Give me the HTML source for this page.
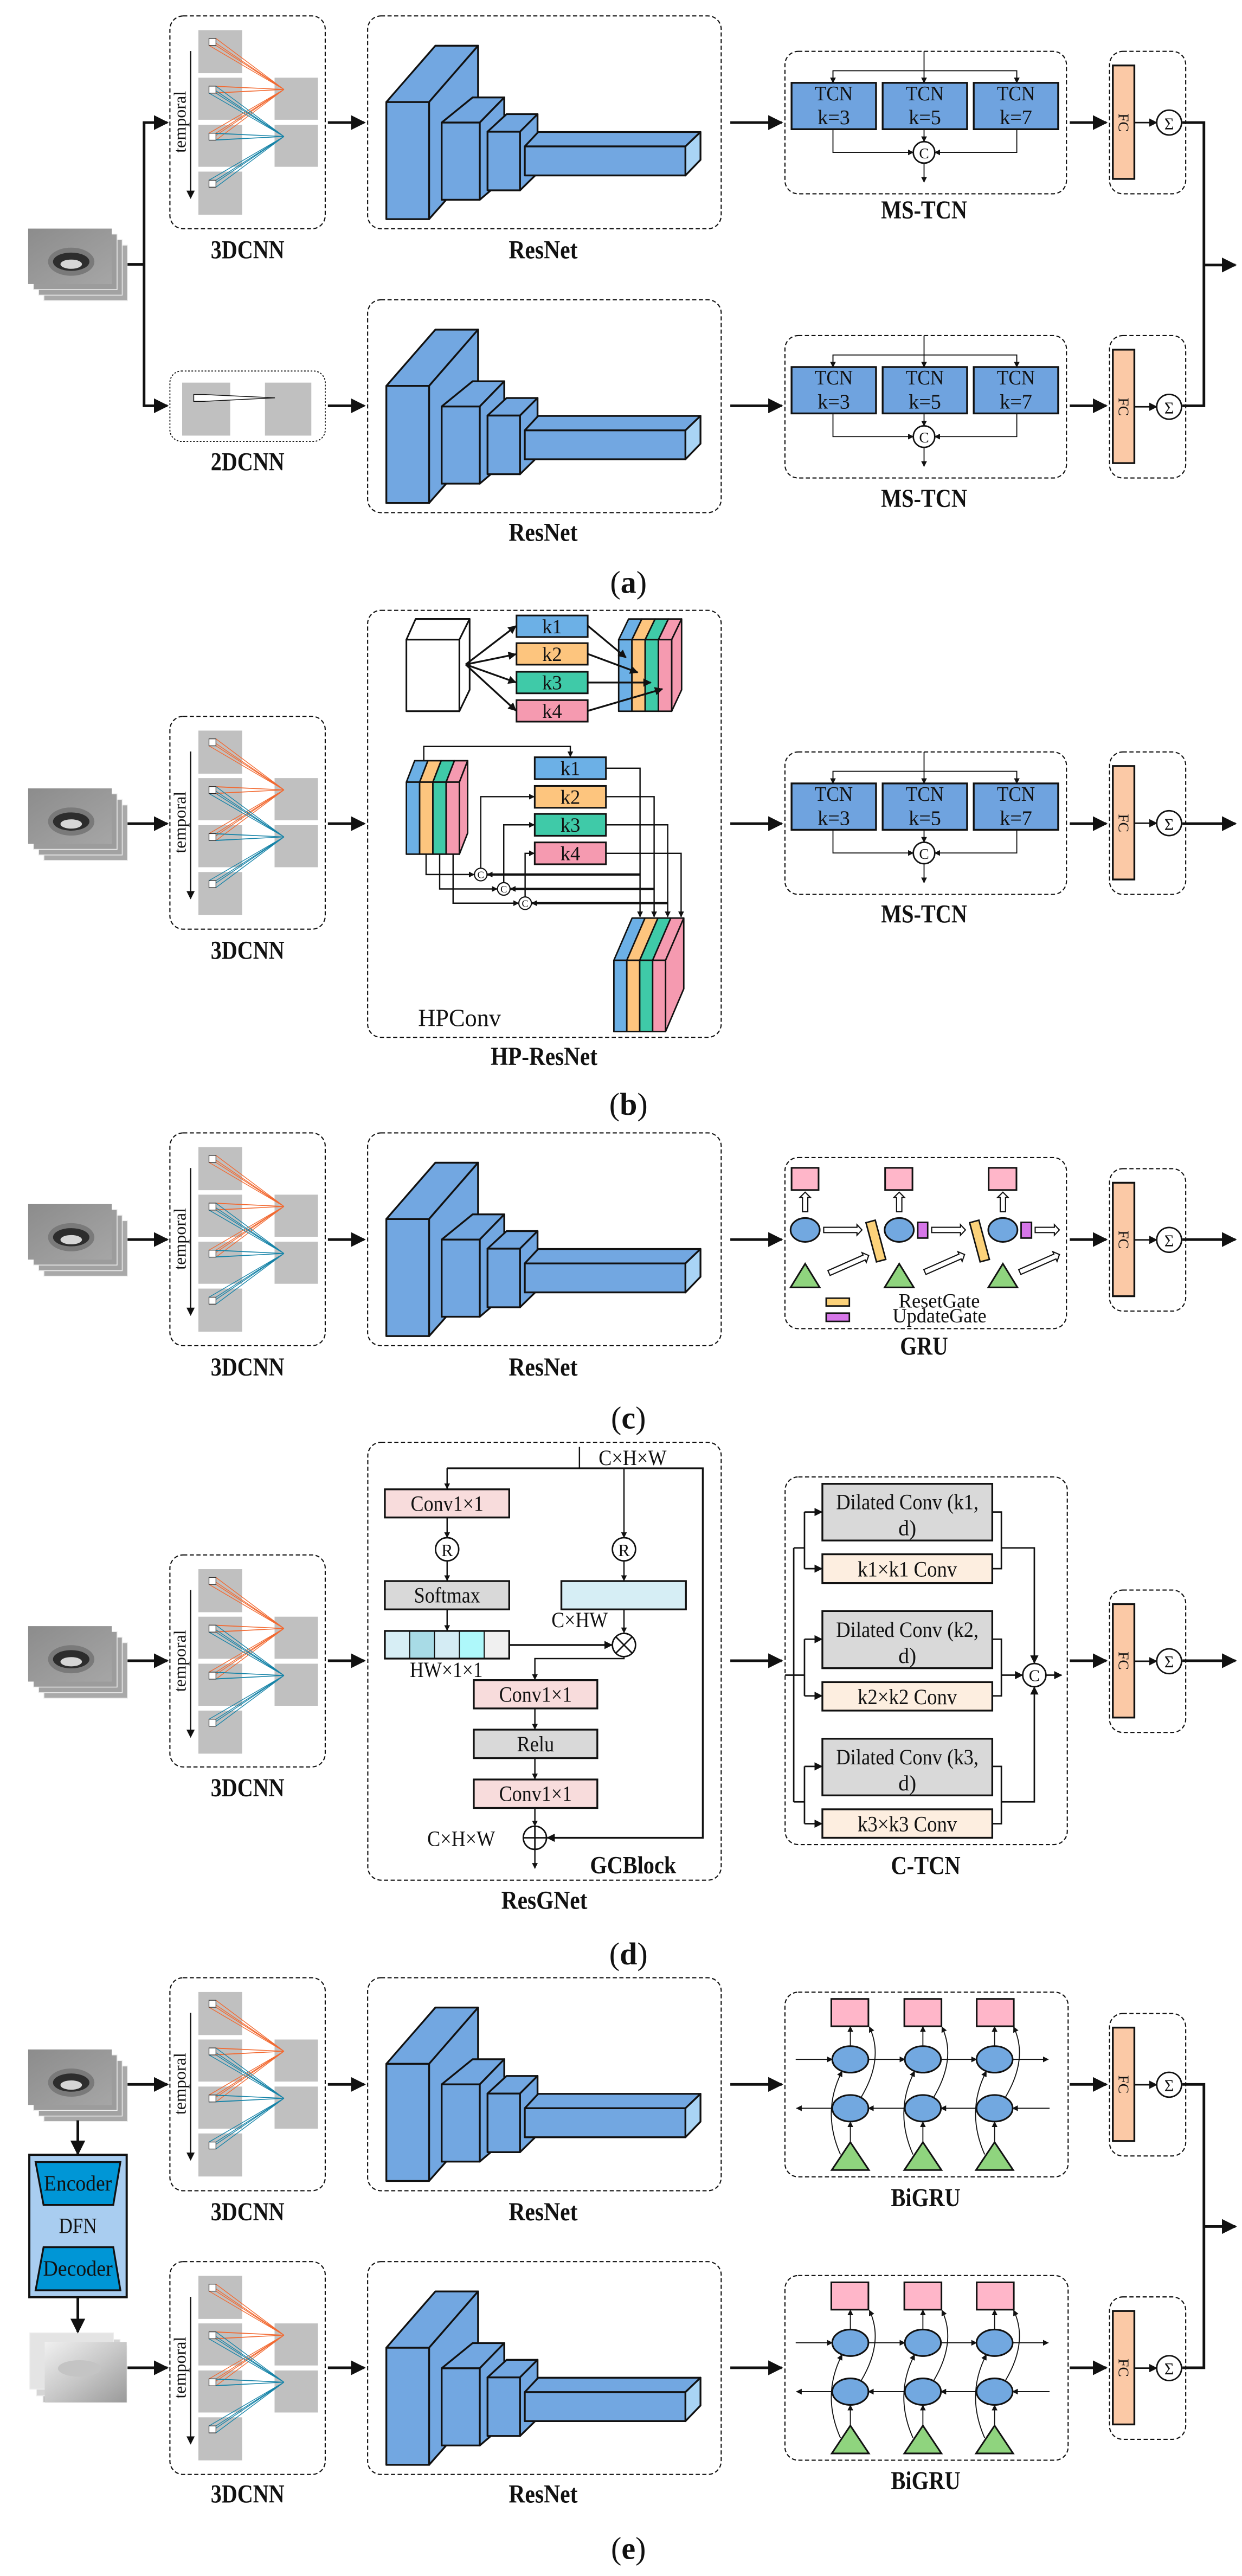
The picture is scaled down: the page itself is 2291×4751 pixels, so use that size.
<!DOCTYPE html>
<html><head><meta charset="utf-8"><style>
html,body{margin:0;padding:0;background:#fff}
svg{display:block}
text{font-family:"Liberation Serif",serif;fill:#111}
.b{font-weight:bold}
</style></head><body>
<svg xmlns="http://www.w3.org/2000/svg" xmlns:xlink="http://www.w3.org/1999/xlink" width="2291" height="4751" viewBox="0 0 750 1555.3">
<defs>
<marker id="ab" viewBox="0 0 10 10" refX="9" refY="5" markerWidth="9" markerHeight="9" markerUnits="userSpaceOnUse" orient="auto"><path d="M0,0L10,5L0,10z" fill="#111"/></marker>
<marker id="am" viewBox="0 0 10 10" refX="9" refY="5" markerWidth="5" markerHeight="5" markerUnits="userSpaceOnUse" orient="auto"><path d="M0,0L10,5L0,10z" fill="#111"/></marker>
<marker id="as" viewBox="0 0 10 10" refX="9" refY="5" markerWidth="3.5" markerHeight="3.5" markerUnits="userSpaceOnUse" orient="auto"><path d="M0,0L10,5L0,10z" fill="#111"/></marker>
<linearGradient id="lg" x1="0" y1="0" x2="1" y2="1"><stop offset="0" stop-color="#8c8c8c"/><stop offset="1" stop-color="#a6a6a6"/></linearGradient>
<linearGradient id="bg" x1="0" y1="0" x2="1" y2="1"><stop offset="0" stop-color="#f0f0f0"/><stop offset="0.5" stop-color="#c8c8c8"/><stop offset="1" stop-color="#9a9a9a"/></linearGradient>

<g id="lips">
<rect x="9.5" y="10" width="50.5" height="33.5" fill="#a9a9a9" stroke="#eee" stroke-width="0.5"/>
<rect x="6.3" y="6.7" width="50.5" height="33.5" fill="#a2a2a2" stroke="#eee" stroke-width="0.5"/>
<rect x="3.2" y="3.3" width="50.5" height="33.5" fill="#9c9c9c" stroke="#eee" stroke-width="0.5"/>
<rect x="0" y="0" width="50.5" height="33.5" fill="url(#lg)"/>
<ellipse cx="26" cy="20" rx="14" ry="8.5" fill="#7a7a7a"/>
<ellipse cx="26" cy="20" rx="11" ry="5.5" fill="#2d2d2d"/>
<ellipse cx="26" cy="21.5" rx="6.5" ry="2.8" fill="#d6d6d6"/>
</g>

<g id="c3d">
<rect x="17.2" y="8.6" width="26.4" height="26" fill="#c0c0c0"/>
<rect x="17.2" y="37.3" width="26.4" height="25.4" fill="#c0c0c0"/>
<rect x="17.2" y="65.7" width="26.4" height="25.4" fill="#c0c0c0"/>
<rect x="17.2" y="94" width="26.4" height="26" fill="#c0c0c0"/>
<rect x="63.2" y="37.3" width="26.2" height="25.4" fill="#c0c0c0"/>
<rect x="63.2" y="65.7" width="26.2" height="25.4" fill="#c0c0c0"/>
<g stroke="#f26a32" stroke-width="0.45" fill="none">
<path d="M23.6,13.6L68.9,44.4M27.8,13.6L68.9,44.4M23.6,17.8L68.9,44.4M27.8,17.8L68.9,44.4"/>
<path d="M23.6,42.4L68.9,44.4M27.8,42.4L68.9,44.4M23.6,46.6L68.9,44.4M27.8,46.6L68.9,44.4"/>
<path d="M23.6,70.8L68.9,44.4M27.8,70.8L68.9,44.4M23.6,75L68.9,44.4M27.8,75L68.9,44.4"/>
</g>
<g stroke="#1784a8" stroke-width="0.45" fill="none">
<path d="M23.6,42.4L68.9,72.8M27.8,42.4L68.9,72.8M23.6,46.6L68.9,72.8M27.8,46.6L68.9,72.8"/>
<path d="M23.6,70.8L68.9,72.8M27.8,70.8L68.9,72.8M23.6,75L68.9,72.8M27.8,75L68.9,72.8"/>
<path d="M23.6,99.2L68.9,72.8M27.8,99.2L68.9,72.8M23.6,103.4L68.9,72.8M27.8,103.4L68.9,72.8"/>
</g>
<g fill="#fff" stroke="#222" stroke-width="0.4">
<rect x="23.6" y="13.6" width="4.2" height="4.2"/><rect x="23.6" y="42.4" width="4.2" height="4.2"/>
<rect x="23.6" y="70.8" width="4.2" height="4.2"/><rect x="23.6" y="99.2" width="4.2" height="4.2"/>
</g>
<line x1="12.5" y1="21.2" x2="12.5" y2="110" stroke="#111" stroke-width="0.8" marker-end="url(#am)"/>
</g>

<g id="res" stroke="#111" stroke-width="1.1" stroke-linejoin="round" fill="#72a7e1">
<polygon points="11.3,52 40.9,18 66.7,18 37.1,52"/>
<polygon points="37.1,52 66.7,18 66.7,89.2 37.1,122.7"/>
<rect x="11.3" y="52" width="25.8" height="70.7"/>
<polygon points="44.7,64.4 63.4,49.2 82.5,49.2 67.7,64.4"/>
<polygon points="67.7,64.4 82.5,49.2 82.5,98.4 67.7,111"/>
<rect x="44.7" y="64.4" width="23" height="46.6"/>
<polygon points="72.4,69.9 83.9,59.3 102.6,59.3 92,69.9"/>
<polygon points="92,69.9 102.6,59.3 102.6,94.9 92,105.3"/>
<rect x="72.4" y="69.9" width="19.6" height="35.4"/>
<polygon points="94.9,78.8 103,70.1 201,70.1 191.9,78.8"/>
<polygon points="191.9,78.8 201,70.1 201,86.9 191.9,96.3" fill="#a9d4f5"/>
<rect x="94.9" y="78.8" width="97" height="17.5"/>
</g>

<g id="ms">
<rect x="0" y="0" width="170" height="86" rx="8" fill="none" stroke="#111" stroke-width="0.7" stroke-dasharray="2.5,1.5"/>
<g fill="#6fa3df" stroke="#111" stroke-width="1.1">
<rect x="4" y="19" width="51" height="28"/><rect x="59" y="19" width="51" height="28"/><rect x="114" y="19" width="51" height="28"/>
</g>
<g stroke="#111" stroke-width="0.6" fill="none">
<line x1="84" y1="0" x2="84" y2="19" marker-end="url(#as)"/>
<path d="M29,19V11.7H140V19" />
<line x1="29" y1="11.7" x2="29" y2="19" marker-end="url(#as)"/>
<line x1="140" y1="11.7" x2="140" y2="19" marker-end="url(#as)"/>
<path d="M29,47V61H77.5" marker-end="url(#as)"/>
<path d="M140,47V61H90.5" marker-end="url(#as)"/>
<line x1="84" y1="47" x2="84" y2="54.5" marker-end="url(#as)"/>
<line x1="84" y1="67.5" x2="84" y2="79" marker-end="url(#as)"/>
</g>
<circle cx="84" cy="61" r="6.5" fill="#fff" stroke="#111" stroke-width="0.9"/>
</g>

<g id="fc">
<rect x="0" y="0" width="46" height="86" rx="8" fill="none" stroke="#111" stroke-width="0.7" stroke-dasharray="2.5,1.5"/>
<rect x="2" y="8.5" width="13" height="68.5" fill="#fbc9a6" stroke="#111" stroke-width="1.1"/>
<line x1="15" y1="43" x2="28.5" y2="43" stroke="#111" stroke-width="0.9" marker-end="url(#am)"/>
<circle cx="36" cy="43" r="7.5" fill="#fff" stroke="#111" stroke-width="0.9"/>
</g>

<g id="bi">
<rect x="0" y="0" width="171" height="111.5" rx="8" fill="none" stroke="#111" stroke-width="0.7" stroke-dasharray="2.5,1.5"/>
<g fill="#ffb6c9" stroke="#111" stroke-width="1">
<rect x="28" y="4.1" width="22.4" height="16.5"/><rect x="72.1" y="4.1" width="22.4" height="16.5"/><rect x="115.8" y="4.1" width="22.4" height="16.5"/>
</g>
<g stroke="#111" stroke-width="0.6" fill="none">
<line x1="6.5" y1="40.6" x2="28.6" y2="40.6" marker-end="url(#as)"/>
<line x1="50.4" y1="40.6" x2="72.4" y2="40.6" marker-end="url(#as)"/>
<line x1="94.2" y1="40.6" x2="115.7" y2="40.6" marker-end="url(#as)"/>
<line x1="137.5" y1="40.6" x2="159" y2="40.6" marker-end="url(#as)"/>
<line x1="159.8" y1="70.1" x2="137.5" y2="70.1" marker-end="url(#as)"/>
<line x1="115.7" y1="70.1" x2="94.2" y2="70.1" marker-end="url(#as)"/>
<line x1="72.4" y1="70.1" x2="50.4" y2="70.1" marker-end="url(#as)"/>
<line x1="28.6" y1="70.1" x2="7" y2="70.1" marker-end="url(#as)"/>
<line x1="39.5" y1="90.6" x2="39.5" y2="78.3" marker-end="url(#as)"/>
<line x1="83.3" y1="90.6" x2="83.3" y2="78.3" marker-end="url(#as)"/>
<line x1="126.6" y1="90.6" x2="126.6" y2="78.3" marker-end="url(#as)"/>
<line x1="39.5" y1="32.6" x2="39.5" y2="20.8" marker-end="url(#as)"/>
<line x1="83.3" y1="32.6" x2="83.3" y2="20.8" marker-end="url(#as)"/>
<line x1="126.6" y1="32.6" x2="126.6" y2="20.8" marker-end="url(#as)"/>
<path d="M33.5,98 Q22,72 34.5,47.8" marker-end="url(#as)"/>
<path d="M77.3,98 Q65.8,72 78.3,47.8" marker-end="url(#as)"/>
<path d="M120.6,98 Q109.1,72 121.6,47.8" marker-end="url(#as)"/>
<path d="M46,63.5 Q60,40 51,21" marker-end="url(#as)"/>
<path d="M89.8,63.5 Q103.8,40 94.8,21" marker-end="url(#as)"/>
<path d="M133.1,63.5 Q147.1,40 138.1,21" marker-end="url(#as)"/>
</g>
<g fill="#72a8e0" stroke="#111" stroke-width="1">
<ellipse cx="39.5" cy="40.6" rx="10.9" ry="8"/><ellipse cx="83.3" cy="40.6" rx="10.9" ry="8"/><ellipse cx="126.6" cy="40.6" rx="10.9" ry="8"/>
<ellipse cx="39.5" cy="70.1" rx="10.9" ry="8"/><ellipse cx="83.3" cy="70.1" rx="10.9" ry="8"/><ellipse cx="126.6" cy="70.1" rx="10.9" ry="8"/>
</g>
<g fill="#8fd47e" stroke="#111" stroke-width="1">
<polygon points="39.5,90.6 50.7,107.4 28.3,107.4"/><polygon points="83.3,90.6 94.5,107.4 72.1,107.4"/><polygon points="126.6,90.6 137.8,107.4 115.4,107.4"/>
</g>
</g>
</defs>

<!-- ================= (a) ================= -->
<use xlink:href="#lips" x="17" y="138"/>
<g stroke="#111" stroke-width="1.6" fill="none">
<path d="M77,159.6H87V74M87,159.6V245"/>
<line x1="86.2" y1="74" x2="101" y2="74" marker-end="url(#ab)"/>
<line x1="86.2" y1="245" x2="101" y2="245" marker-end="url(#ab)"/>
<line x1="198" y1="74" x2="220" y2="74" marker-end="url(#ab)"/>
<line x1="198" y1="245" x2="220" y2="245" marker-end="url(#ab)"/>
<line x1="441" y1="74" x2="472" y2="74" marker-end="url(#ab)"/>
<line x1="441" y1="245" x2="472" y2="245" marker-end="url(#ab)"/>
<line x1="646" y1="74" x2="668" y2="74" marker-end="url(#ab)"/>
<line x1="646" y1="245" x2="668" y2="245" marker-end="url(#ab)"/>
<path d="M714,74H727V245H714"/>
<line x1="727" y1="160" x2="746" y2="160" marker-end="url(#ab)"/>
</g>
<rect x="102.6" y="9.6" width="93.8" height="128.5" rx="8" fill="none" stroke="#111" stroke-width="0.7" stroke-dasharray="2.5,1.5"/>
<use xlink:href="#c3d" x="102.6" y="9.6"/>
<text transform="translate(112.2,73.6) rotate(-90)" font-size="10.5" text-anchor="middle">temporal</text>
<text class="b" x="149.5" y="156" font-size="15.5" text-anchor="middle" textLength="44.5" lengthAdjust="spacingAndGlyphs">3DCNN</text>

<rect x="102.6" y="224" width="93.8" height="42.5" rx="7" fill="none" stroke="#111" stroke-width="0.6" stroke-dasharray="1,1"/>
<rect x="110" y="231" width="29" height="32" fill="#c0c0c0"/>
<rect x="160" y="231" width="28" height="32" fill="#c0c0c0"/>
<polygon points="117,238.2 123.3,238.2 166,240.2 123.3,242.3 117,242.3" fill="#fff" stroke="#111" stroke-width="0.5"/>
<text class="b" x="149.5" y="284" font-size="15.5" text-anchor="middle" textLength="44.5" lengthAdjust="spacingAndGlyphs">2DCNN</text>

<rect x="222" y="9.6" width="213.5" height="128.5" rx="8" fill="none" stroke="#111" stroke-width="0.7" stroke-dasharray="2.5,1.5"/>
<use xlink:href="#res" x="222" y="9.6"/>
<text class="b" x="328" y="156" font-size="15.5" text-anchor="middle" textLength="41.6" lengthAdjust="spacingAndGlyphs">ResNet</text>
<rect x="222" y="181" width="213.5" height="128.5" rx="8" fill="none" stroke="#111" stroke-width="0.7" stroke-dasharray="2.5,1.5"/>
<use xlink:href="#res" x="222" y="181"/>
<text class="b" x="328" y="326.5" font-size="15.5" text-anchor="middle" textLength="41.6" lengthAdjust="spacingAndGlyphs">ResNet</text>

<use xlink:href="#ms" x="474" y="31"/>
<g font-size="12.5" text-anchor="middle">
<text x="503.5" y="60.5" textLength="23" lengthAdjust="spacingAndGlyphs">TCN</text><text x="503.5" y="75">k=3</text>
<text x="558.5" y="60.5" textLength="23" lengthAdjust="spacingAndGlyphs">TCN</text><text x="558.5" y="75">k=5</text>
<text x="613.5" y="60.5" textLength="23" lengthAdjust="spacingAndGlyphs">TCN</text><text x="613.5" y="75">k=7</text>
<text x="558" y="95.5" font-size="9">C</text>
</g>
<text class="b" x="558" y="132" font-size="15.5" text-anchor="middle" textLength="52" lengthAdjust="spacingAndGlyphs">MS-TCN</text>
<use xlink:href="#ms" x="474" y="202.6"/>
<g font-size="12.5" text-anchor="middle">
<text x="503.5" y="232.1" textLength="23" lengthAdjust="spacingAndGlyphs">TCN</text><text x="503.5" y="246.6">k=3</text>
<text x="558.5" y="232.1" textLength="23" lengthAdjust="spacingAndGlyphs">TCN</text><text x="558.5" y="246.6">k=5</text>
<text x="613.5" y="232.1" textLength="23" lengthAdjust="spacingAndGlyphs">TCN</text><text x="613.5" y="246.6">k=7</text>
<text x="558" y="267.1" font-size="9">C</text>
</g>
<text class="b" x="558" y="306" font-size="15.5" text-anchor="middle" textLength="52" lengthAdjust="spacingAndGlyphs">MS-TCN</text>

<use xlink:href="#fc" x="670" y="31"/>
<text transform="translate(675.5,74) rotate(90)" font-size="9" text-anchor="middle">FC</text>
<text x="706" y="78" font-size="10" text-anchor="middle">Σ</text>
<use xlink:href="#fc" x="670" y="202.6"/>
<text transform="translate(675.5,245.6) rotate(90)" font-size="9" text-anchor="middle">FC</text>
<text x="706" y="249.6" font-size="10" text-anchor="middle">Σ</text>

<text x="379.5" y="358" font-size="19" text-anchor="middle">(<tspan class="b">a</tspan>)</text>

<!-- ================= (b) ================= -->
<use xlink:href="#lips" x="17" y="476"/>
<g stroke="#111" stroke-width="1.6" fill="none">
<line x1="77" y1="497.3" x2="101" y2="497.3" marker-end="url(#ab)"/>
<line x1="198" y1="497.3" x2="220" y2="497.3" marker-end="url(#ab)"/>
<line x1="441" y1="497.3" x2="472" y2="497.3" marker-end="url(#ab)"/>
<line x1="646" y1="497.3" x2="668" y2="497.3" marker-end="url(#ab)"/>
<line x1="714" y1="497.3" x2="746" y2="497.3" marker-end="url(#ab)"/>
</g>
<rect x="102.6" y="432.5" width="93.8" height="128.5" rx="8" fill="none" stroke="#111" stroke-width="0.7" stroke-dasharray="2.5,1.5"/>
<use xlink:href="#c3d" x="102.6" y="432.5"/>
<text transform="translate(112.2,496.5) rotate(-90)" font-size="10.5" text-anchor="middle">temporal</text>
<text class="b" x="149.5" y="579" font-size="15.5" text-anchor="middle" textLength="44.5" lengthAdjust="spacingAndGlyphs">3DCNN</text>

<rect x="222" y="368.5" width="213.5" height="257.8" rx="8" fill="none" stroke="#111" stroke-width="0.7" stroke-dasharray="2.5,1.5"/>
<g stroke="#111" stroke-width="1" stroke-linejoin="round">
<polygon points="245.4,386.2 251,373.7 283.6,373.7 277.4,386.2" fill="#fff"/>
<polygon points="277.4,386.2 283.6,373.7 283.6,416.5 277.4,429.4" fill="#fff"/>
<rect x="245.4" y="386.2" width="32" height="43.2" fill="#fff"/>
</g>
<g stroke="#111" stroke-width="1">
<rect x="311.9" y="371.6" width="43" height="13" fill="#6cb0e6"/>
<rect x="311.9" y="388.3" width="43" height="13" fill="#fdc57e"/>
<rect x="311.9" y="405.6" width="43" height="13" fill="#3fcaa8"/>
<rect x="311.9" y="422.7" width="43" height="13" fill="#f59ab0"/>
</g>
<g font-size="12" text-anchor="middle">
<text x="333.4" y="382.3">k1</text><text x="333.4" y="399">k2</text><text x="333.4" y="416.3">k3</text><text x="333.4" y="433.4">k4</text>
</g>
<g stroke="#111" stroke-width="1.1" fill="none">
<line x1="281.2" y1="401.2" x2="311.5" y2="378" marker-end="url(#am)"/>
<line x1="281.2" y1="401.2" x2="311.5" y2="395" marker-end="url(#am)"/>
<line x1="281.2" y1="401.2" x2="311.5" y2="412" marker-end="url(#am)"/>
<line x1="281.2" y1="401.2" x2="311.5" y2="429" marker-end="url(#am)"/>
</g>
<g stroke="#111" stroke-width="0.9" stroke-linejoin="round">
<polygon points="373.6,386.2 379.6,373.7 387.6,373.7 381.6,386.2" fill="#6cb0e6"/>
<polygon points="381.6,386.2 387.6,373.7 395.6,373.7 389.6,386.2" fill="#fdc57e"/>
<polygon points="389.6,386.2 395.6,373.7 403.6,373.7 397.6,386.2" fill="#3fcaa8"/>
<polygon points="397.6,386.2 403.6,373.7 411.6,373.7 405.6,386.2" fill="#f59ab0"/>
<polygon points="405.6,386.2 411.6,373.7 411.6,416.5 405.6,429.4" fill="#f59ab0"/>
<rect x="373.6" y="386.2" width="8" height="43.2" fill="#6cb0e6"/>
<rect x="381.6" y="386.2" width="8" height="43.2" fill="#fdc57e"/>
<rect x="389.6" y="386.2" width="8" height="43.2" fill="#3fcaa8"/>
<rect x="397.6" y="386.2" width="8" height="43.2" fill="#f59ab0"/>
</g>
<g stroke="#111" stroke-width="1.1" fill="none">
<line x1="354.9" y1="377.8" x2="378" y2="397" marker-end="url(#am)"/>
<line x1="354.9" y1="394.8" x2="385" y2="406" marker-end="url(#am)"/>
<line x1="354.9" y1="412.1" x2="393" y2="412.1" marker-end="url(#am)"/>
<line x1="354.9" y1="429.2" x2="400" y2="416" marker-end="url(#am)"/>
</g>
<g stroke="#111" stroke-width="0.9" stroke-linejoin="round">
<polygon points="245.4,472.2 250.4,459.3 258.4,459.3 253.4,472.2" fill="#6cb0e6"/>
<polygon points="253.4,472.2 258.4,459.3 266.4,459.3 261.4,472.2" fill="#fdc57e"/>
<polygon points="261.4,472.2 266.4,459.3 274.4,459.3 269.4,472.2" fill="#3fcaa8"/>
<polygon points="269.4,472.2 274.4,459.3 282.4,459.3 277.4,472.2" fill="#f59ab0"/>
<polygon points="277.4,472.2 282.4,459.3 282.4,503 277.4,515.7" fill="#f59ab0"/>
<rect x="245.4" y="472.2" width="8" height="43.5" fill="#6cb0e6"/>
<rect x="253.4" y="472.2" width="8" height="43.5" fill="#fdc57e"/>
<rect x="261.4" y="472.2" width="8" height="43.5" fill="#3fcaa8"/>
<rect x="269.4" y="472.2" width="8" height="43.5" fill="#f59ab0"/>
</g>
<g stroke="#111" stroke-width="1">
<rect x="322.9" y="457.2" width="43" height="13.2" fill="#6cb0e6"/>
<rect x="322.9" y="474.5" width="43" height="13.2" fill="#fdc57e"/>
<rect x="322.9" y="491.4" width="43" height="13.2" fill="#3fcaa8"/>
<rect x="322.9" y="508.6" width="43" height="13.2" fill="#f59ab0"/>
</g>
<g font-size="12" text-anchor="middle">
<text x="344.4" y="468">k1</text><text x="344.4" y="485.3">k2</text><text x="344.4" y="502.2">k3</text><text x="344.4" y="519.4">k4</text>
</g>
<g stroke="#111" stroke-width="0.8" fill="none">
<path d="M255.9,459.3V450.7H344.4V456.8" marker-end="url(#as)"/>
<path d="M257.3,515.7V528H286.3" marker-end="url(#as)"/>
<path d="M265.5,515.7V536.7H300.2" marker-end="url(#as)"/>
<path d="M273.6,515.7V545.3H313.1" marker-end="url(#as)"/>
<path d="M290.3,524.2V481H322.6" marker-end="url(#as)"/>
<path d="M304.2,532.9V498H322.6" marker-end="url(#as)"/>
<path d="M317.1,541.5V515.2H322.6" marker-end="url(#as)"/>
<path d="M365.9,463.8H386.5V553.5" marker-end="url(#as)"/>
<path d="M365.9,481H395V553.5" marker-end="url(#as)"/>
<path d="M365.9,498H403.2V553.5" marker-end="url(#as)"/>
<path d="M365.9,515.2H411.3V553.5" marker-end="url(#as)"/>
</g>
<g stroke="#111" stroke-width="1.4" fill="none">
<line x1="386.5" y1="528" x2="294.3" y2="528" marker-end="url(#as)"/>
<line x1="395" y1="536.7" x2="308.2" y2="536.7" marker-end="url(#as)"/>
<line x1="403.2" y1="545.3" x2="321.1" y2="545.3" marker-end="url(#as)"/>
</g>
<g fill="#fff" stroke="#111" stroke-width="0.7">
<circle cx="290.3" cy="528" r="3.8"/><circle cx="304.2" cy="536.7" r="3.8"/><circle cx="317.1" cy="545.3" r="3.8"/>
</g>
<g font-size="6" text-anchor="middle">
<text x="290.3" y="530.2">C</text><text x="304.2" y="538.9">C</text><text x="317.1" y="547.5">C</text>
</g>
<g stroke="#111" stroke-width="0.9" stroke-linejoin="round">
<polygon points="370.7,579.8 381.7,554.3 389.5,554.3 378.5,579.8" fill="#6cb0e6"/>
<polygon points="378.5,579.8 389.5,554.3 397.3,554.3 386.3,579.8" fill="#fdc57e"/>
<polygon points="386.3,579.8 397.3,554.3 405.1,554.3 394.1,579.8" fill="#3fcaa8"/>
<polygon points="394.1,579.8 405.1,554.3 412.9,554.3 401.9,579.8" fill="#f59ab0"/>
<polygon points="401.9,579.8 412.9,554.3 412.9,597 401.9,622.8" fill="#f59ab0"/>
<rect x="370.7" y="579.8" width="7.8" height="43" fill="#6cb0e6"/>
<rect x="378.5" y="579.8" width="7.8" height="43" fill="#fdc57e"/>
<rect x="386.3" y="579.8" width="7.8" height="43" fill="#3fcaa8"/>
<rect x="394.1" y="579.8" width="7.8" height="43" fill="#f59ab0"/>
</g>
<text x="252.5" y="619.5" font-size="15" textLength="50" lengthAdjust="spacingAndGlyphs">HPConv</text>
<text class="b" x="328.5" y="643" font-size="15.5" text-anchor="middle" textLength="64.5" lengthAdjust="spacingAndGlyphs">HP-ResNet</text>

<use xlink:href="#ms" x="474" y="454"/>
<g font-size="12.5" text-anchor="middle">
<text x="503.5" y="483.5" textLength="23" lengthAdjust="spacingAndGlyphs">TCN</text><text x="503.5" y="498">k=3</text>
<text x="558.5" y="483.5" textLength="23" lengthAdjust="spacingAndGlyphs">TCN</text><text x="558.5" y="498">k=5</text>
<text x="613.5" y="483.5" textLength="23" lengthAdjust="spacingAndGlyphs">TCN</text><text x="613.5" y="498">k=7</text>
<text x="558" y="518.5" font-size="9">C</text>
</g>
<text class="b" x="558" y="557" font-size="15.5" text-anchor="middle" textLength="52" lengthAdjust="spacingAndGlyphs">MS-TCN</text>
<use xlink:href="#fc" x="670" y="454"/>
<text transform="translate(675.5,497) rotate(90)" font-size="9" text-anchor="middle">FC</text>
<text x="706" y="501" font-size="10" text-anchor="middle">Σ</text>
<text x="379.5" y="673" font-size="19" text-anchor="middle">(<tspan class="b">b</tspan>)</text>

<!-- ================= (c) ================= -->
<use xlink:href="#lips" x="17" y="727"/>
<g stroke="#111" stroke-width="1.6" fill="none">
<line x1="77" y1="748.4" x2="101" y2="748.4" marker-end="url(#ab)"/>
<line x1="198" y1="748.4" x2="220" y2="748.4" marker-end="url(#ab)"/>
<line x1="441" y1="748.4" x2="472" y2="748.4" marker-end="url(#ab)"/>
<line x1="646" y1="748.4" x2="668" y2="748.4" marker-end="url(#ab)"/>
<line x1="714" y1="748.4" x2="746" y2="748.4" marker-end="url(#ab)"/>
</g>
<rect x="102.6" y="684" width="93.8" height="128.5" rx="8" fill="none" stroke="#111" stroke-width="0.7" stroke-dasharray="2.5,1.5"/>
<use xlink:href="#c3d" x="102.6" y="684"/>
<text transform="translate(112.2,748) rotate(-90)" font-size="10.5" text-anchor="middle">temporal</text>
<text class="b" x="149.5" y="830.5" font-size="15.5" text-anchor="middle" textLength="44.5" lengthAdjust="spacingAndGlyphs">3DCNN</text>
<rect x="222" y="684" width="213.5" height="128.5" rx="8" fill="none" stroke="#111" stroke-width="0.7" stroke-dasharray="2.5,1.5"/>
<use xlink:href="#res" x="222" y="684"/>
<text class="b" x="328" y="830.5" font-size="15.5" text-anchor="middle" textLength="41.6" lengthAdjust="spacingAndGlyphs">ResNet</text>

<rect x="474" y="698.9" width="170" height="103.3" rx="8" fill="none" stroke="#111" stroke-width="0.7" stroke-dasharray="2.5,1.5"/>
<g fill="#ffb6c9" stroke="#111" stroke-width="1">
<rect x="478" y="705.1" width="16.3" height="13.4"/><rect x="534.5" y="705.1" width="16.5" height="13.4"/><rect x="597" y="705.1" width="16.8" height="13.4"/>
</g>
<g fill="#fff" stroke="#111" stroke-width="0.7">
<polygon points="484.6,731.6 484.6,723 483,723 486.2,719.8 489.4,723 487.8,723 487.8,731.6"/>
<polygon points="541.4,731.6 541.4,723 539.8,723 543,719.8 546.2,723 544.6,723 544.6,731.6"/>
<polygon points="604,731.6 604,723 602.4,723 605.6,719.8 608.8,723 607.2,723 607.2,731.6"/>
<polygon points="497.4,741 517.5,741 517.5,739.4 520.5,742.6 517.5,745.8 517.5,744.2 497.4,744.2"/>
<polygon points="562.6,741 580,741 580,739.4 583,742.6 580,745.8 580,744.2 562.6,744.2"/>
<polygon points="625.1,741 636.7,741 636.7,739.4 639.7,742.6 636.7,745.8 636.7,744.2 625.1,744.2"/>
<polygon points="0,-1.6 23.2,-1.6 23.2,-3.2 26.2,0 23.2,3.2 23.2,1.6 0,1.6" transform="translate(500.6,768.6) rotate(-23.8)"/>
<polygon points="0,-1.6 23.2,-1.6 23.2,-3.2 26.2,0 23.2,3.2 23.2,1.6 0,1.6" transform="translate(558.5,768) rotate(-23.8)"/>
<polygon points="0,-1.6 23.2,-1.6 23.2,-3.2 26.2,0 23.2,3.2 23.2,1.6 0,1.6" transform="translate(615.8,768) rotate(-23.8)"/>
</g>
<g fill="#72a8e0" stroke="#111" stroke-width="1">
<ellipse cx="486.2" cy="742.6" rx="8.8" ry="7.2"/><ellipse cx="543" cy="742.6" rx="8.8" ry="7.2"/><ellipse cx="605.6" cy="742.6" rx="8.8" ry="7.2"/>
</g>
<g fill="#fcd27a" stroke="#111" stroke-width="0.9">
<rect x="-2.9" y="-12.25" width="5.8" height="24.5" transform="translate(528.9,749.3) rotate(-15)"/>
<rect x="-2.9" y="-12.25" width="5.8" height="24.5" transform="translate(591.5,749.3) rotate(-15)"/>
<rect x="498.9" y="783.8" width="14" height="4.7"/>
</g>
<g fill="#d676e8" stroke="#111" stroke-width="0.9">
<rect x="554.2" y="738" width="6" height="9.5"/><rect x="616.6" y="738" width="6.3" height="9.5"/>
<rect x="498.9" y="792.8" width="14" height="5"/>
</g>
<g fill="#8fd47e" stroke="#111" stroke-width="1">
<polygon points="486.2,763 495,777.3 477.4,777.3"/><polygon points="543,763 551.8,777.3 534.2,777.3"/><polygon points="605.6,763 614.4,777.3 596.8,777.3"/>
</g>
<text x="542.7" y="789.4" font-size="12" textLength="49" lengthAdjust="spacingAndGlyphs">ResetGate</text>
<text x="539" y="798.4" font-size="12" textLength="56.7" lengthAdjust="spacingAndGlyphs">UpdateGate</text>
<text class="b" x="558" y="818" font-size="15.5" text-anchor="middle" textLength="29" lengthAdjust="spacingAndGlyphs">GRU</text>
<use xlink:href="#fc" x="670" y="705.6"/>
<text transform="translate(675.5,748.4) rotate(90)" font-size="9" text-anchor="middle">FC</text>
<text x="706" y="752.4" font-size="10" text-anchor="middle">Σ</text>
<text x="379.5" y="862.5" font-size="19" text-anchor="middle">(<tspan class="b">c</tspan>)</text>

<!-- ================= (d) ================= -->
<use xlink:href="#lips" x="17" y="981.8"/>
<g stroke="#111" stroke-width="1.6" fill="none">
<line x1="77" y1="1002.7" x2="101" y2="1002.7" marker-end="url(#ab)"/>
<line x1="198" y1="1002.7" x2="220" y2="1002.7" marker-end="url(#ab)"/>
<line x1="441" y1="1002.7" x2="472" y2="1002.7" marker-end="url(#ab)"/>
<line x1="646" y1="1002.7" x2="668" y2="1002.7" marker-end="url(#ab)"/>
<line x1="714" y1="1002.7" x2="746" y2="1002.7" marker-end="url(#ab)"/>
</g>
<rect x="102.6" y="938.8" width="93.8" height="128" rx="8" fill="none" stroke="#111" stroke-width="0.7" stroke-dasharray="2.5,1.5"/>
<use xlink:href="#c3d" x="102.6" y="938.8"/>
<text transform="translate(112.2,1002.8) rotate(-90)" font-size="10.5" text-anchor="middle">temporal</text>
<text class="b" x="149.5" y="1084.5" font-size="15.5" text-anchor="middle" textLength="44.5" lengthAdjust="spacingAndGlyphs">3DCNN</text>

<rect x="222.1" y="870.8" width="213.4" height="264.4" rx="8" fill="none" stroke="#111" stroke-width="0.7" stroke-dasharray="2.5,1.5"/>
<g stroke="#111" stroke-width="0.8" fill="none">
<line x1="349.9" y1="873.6" x2="349.9" y2="886.5"/>
<path d="M270,886.5H424.4V1109.6H330.5" stroke-width="1.1" marker-end="url(#am)"/>
<line x1="270" y1="886.5" x2="270" y2="898.8" marker-end="url(#as)"/>
<line x1="376.8" y1="886.5" x2="376.8" y2="928.3" marker-end="url(#as)"/>
<line x1="270" y1="916.2" x2="270" y2="928.3" marker-end="url(#as)"/>
<line x1="270" y1="942.5" x2="270" y2="954.3" marker-end="url(#as)"/>
<line x1="376.8" y1="942.5" x2="376.8" y2="954.3" marker-end="url(#as)"/>
<line x1="270" y1="971.7" x2="270" y2="984.4" marker-end="url(#as)"/>
<line x1="376.8" y1="971.7" x2="376.8" y2="985.8" marker-end="url(#as)"/>
<line x1="307.5" y1="993.2" x2="369.5" y2="993.2" stroke-width="1.1" marker-end="url(#am)"/>
<path d="M376.8,1000.2V1001.4H323V1014" marker-end="url(#as)"/>
<line x1="323" y1="1031.5" x2="323" y2="1044" marker-end="url(#as)"/>
<line x1="323" y1="1061.5" x2="323" y2="1074" marker-end="url(#as)"/>
<line x1="323" y1="1091.6" x2="323" y2="1102.4" marker-end="url(#as)"/>
<line x1="323" y1="1116.8" x2="323" y2="1128" marker-end="url(#as)"/>
</g>
<g stroke="#111" stroke-width="1.1">
<rect x="232.4" y="899.2" width="75.1" height="17" fill="#f8dcdc"/>
<rect x="232.4" y="954.6" width="75.1" height="17.1" fill="#d9d9d9"/>
<rect x="339" y="954.6" width="75.2" height="17.1" fill="#d6eef5"/>
<rect x="286.1" y="1014.4" width="74.6" height="17.1" fill="#f8dcdc"/>
<rect x="286.1" y="1044.3" width="74.6" height="17.2" fill="#d9d9d9"/>
<rect x="286.1" y="1074.4" width="74.6" height="17.2" fill="#f8dcdc"/>
</g>
<g stroke="#111" stroke-width="0.6">
<rect x="232.4" y="984.7" width="15" height="16.7" fill="#d7eef5"/>
<rect x="247.4" y="984.7" width="15" height="16.7" fill="#a8dbe6"/>
<rect x="262.4" y="984.7" width="15" height="16.7" fill="#d4ecf4"/>
<rect x="277.4" y="984.7" width="15" height="16.7" fill="#aef8fa"/>
<rect x="292.4" y="984.7" width="15.1" height="16.7" fill="#f0f0f0"/>
<rect x="232.4" y="984.7" width="75.1" height="16.7" fill="none" stroke-width="1.1"/>
</g>
<g fill="#fff" stroke="#111" stroke-width="0.9">
<circle cx="270" cy="935.4" r="7"/><circle cx="376.8" cy="935.4" r="7"/>
<circle cx="376.8" cy="993.2" r="7"/><circle cx="323" cy="1109.6" r="7"/>
</g>
<g stroke="#111" stroke-width="0.9">
<path d="M371.9,988.3L381.7,998.1M381.7,988.3L371.9,998.1"/>
<path d="M316,1109.6H330M323,1102.6V1116.6"/>
</g>
<g font-size="13" text-anchor="middle">
<text x="270" y="939.5" font-size="10.5">R</text><text x="376.8" y="939.5" font-size="10.5">R</text>
<text x="270" y="912.2" textLength="44" lengthAdjust="spacingAndGlyphs">Conv1×1</text>
<text x="270" y="967.6" textLength="40" lengthAdjust="spacingAndGlyphs">Softmax</text>
<text x="323.4" y="1027.4" textLength="44" lengthAdjust="spacingAndGlyphs">Conv1×1</text>
<text x="323.4" y="1057.4" textLength="22.5" lengthAdjust="spacingAndGlyphs">Relu</text>
<text x="323.4" y="1087.4" textLength="44" lengthAdjust="spacingAndGlyphs">Conv1×1</text>
<text x="382" y="884.5" textLength="41" lengthAdjust="spacingAndGlyphs">C×H×W</text>
<text x="350" y="982.5" textLength="34" lengthAdjust="spacingAndGlyphs">C×HW</text>
<text x="269.5" y="1012.5" textLength="44" lengthAdjust="spacingAndGlyphs">HW×1×1</text>
<text x="278.5" y="1114.5" textLength="41" lengthAdjust="spacingAndGlyphs">C×H×W</text>
</g>
<text class="b" x="382.3" y="1131" font-size="15" text-anchor="middle" textLength="52" lengthAdjust="spacingAndGlyphs">GCBlock</text>
<text class="b" x="328.7" y="1152.5" font-size="15.5" text-anchor="middle" textLength="52" lengthAdjust="spacingAndGlyphs">ResGNet</text>

<rect x="474.1" y="891.7" width="170.4" height="222" rx="8" fill="none" stroke="#111" stroke-width="0.7" stroke-dasharray="2.5,1.5"/>
<g stroke="#111" stroke-width="1.1">
<rect x="496.6" y="895.9" width="102.6" height="34.2" fill="#d9d9d9"/>
<rect x="496.6" y="938.4" width="102.6" height="17.4" fill="#fdeee0"/>
<rect x="496.6" y="972.7" width="102.6" height="34.5" fill="#d9d9d9"/>
<rect x="496.6" y="1015.6" width="102.6" height="17.2" fill="#fdeee0"/>
<rect x="496.6" y="1049.8" width="102.6" height="34.2" fill="#d9d9d9"/>
<rect x="496.6" y="1092.4" width="102.6" height="17.2" fill="#fdeee0"/>
</g>
<g stroke="#111" stroke-width="0.9" fill="none">
<path d="M474.1,1011.4H485.8M479.3,934.6V1087.9M479.3,934.6H485.8M479.3,1087.9H485.8"/>
<path d="M485.8,912.9V947.1M485.8,989.7V1023.9M485.8,1066.5V1101.1"/>
<line x1="485.8" y1="912.9" x2="496.3" y2="912.9" marker-end="url(#am)"/>
<line x1="485.8" y1="947.1" x2="496.3" y2="947.1" marker-end="url(#am)"/>
<line x1="485.8" y1="989.7" x2="496.3" y2="989.7" marker-end="url(#am)"/>
<line x1="485.8" y1="1023.9" x2="496.3" y2="1023.9" marker-end="url(#am)"/>
<line x1="485.8" y1="1066.5" x2="496.3" y2="1066.5" marker-end="url(#am)"/>
<line x1="485.8" y1="1101.1" x2="496.3" y2="1101.1" marker-end="url(#am)"/>
<path d="M599.2,912.9H604.7V947.1H599.2M599.2,989.7H604.7V1023.9H599.2M599.2,1066.5H604.7V1101.1H599.2"/>
<path d="M604.7,934.6H624.6V1004" marker-end="url(#am)"/>
<path d="M604.7,1087.9H624.6V1018.6" marker-end="url(#am)"/>
<line x1="604.7" y1="1011.4" x2="617.4" y2="1011.4" marker-end="url(#am)"/>
<line x1="631.6" y1="1011.4" x2="641" y2="1011.4" marker-end="url(#am)"/>
</g>
<circle cx="624.6" cy="1011.4" r="7" fill="#fff" stroke="#111" stroke-width="0.9"/>
<text x="624.6" y="1015" font-size="10" text-anchor="middle">C</text>
<g font-size="13" text-anchor="middle">
<text x="547.9" y="911.3" textLength="86" lengthAdjust="spacingAndGlyphs">Dilated Conv (k1,</text>
<text x="547.9" y="927">d)</text>
<text x="547.9" y="951.8" textLength="60" lengthAdjust="spacingAndGlyphs">k1×k1 Conv</text>
<text x="547.9" y="988.3" textLength="86" lengthAdjust="spacingAndGlyphs">Dilated Conv (k2,</text>
<text x="547.9" y="1004">d)</text>
<text x="547.9" y="1028.9" textLength="60" lengthAdjust="spacingAndGlyphs">k2×k2 Conv</text>
<text x="547.9" y="1065.3" textLength="86" lengthAdjust="spacingAndGlyphs">Dilated Conv (k3,</text>
<text x="547.9" y="1081">d)</text>
<text x="547.9" y="1105.7" textLength="60" lengthAdjust="spacingAndGlyphs">k3×k3 Conv</text>
</g>
<text class="b" x="559" y="1131.5" font-size="15.5" text-anchor="middle" textLength="42" lengthAdjust="spacingAndGlyphs">C-TCN</text>
<use xlink:href="#fc" x="670" y="960"/>
<text transform="translate(675.5,1002.7) rotate(90)" font-size="9" text-anchor="middle">FC</text>
<text x="706" y="1006.7" font-size="10" text-anchor="middle">Σ</text>
<text x="379.5" y="1186" font-size="19" text-anchor="middle">(<tspan class="b">d</tspan>)</text>

<!-- ================= (e) ================= -->
<use xlink:href="#lips" x="17" y="1237.4"/>
<rect x="17.7" y="1301" width="58.8" height="86" fill="#a9cdf0" stroke="#111" stroke-width="1.3"/>
<polygon points="21.5,1305.4 72.7,1305.4 68.4,1331.3 26.3,1331.3" fill="#0096d6" stroke="#111" stroke-width="1.1"/>
<polygon points="26.3,1356.8 68.4,1356.8 72.7,1382.8 21.5,1382.8" fill="#0096d6" stroke="#111" stroke-width="1.1"/>
<text x="47" y="1322.5" font-size="13" text-anchor="middle" textLength="41" lengthAdjust="spacingAndGlyphs">Encoder</text>
<text x="47" y="1348.3" font-size="13" text-anchor="middle" textLength="23" lengthAdjust="spacingAndGlyphs">DFN</text>
<text x="47" y="1374" font-size="13" text-anchor="middle" textLength="42" lengthAdjust="spacingAndGlyphs">Decoder</text>
<g>
<rect x="26" y="1416.5" width="50.5" height="34" fill="#bdbdbd" stroke="#eee" stroke-width="0.5"/>
<rect x="22" y="1412.5" width="50.5" height="34" fill="#d5d5d5" stroke="#eee" stroke-width="0.5"/>
<rect x="18" y="1408.5" width="50.5" height="34" fill="#e4e4e4" stroke="#eee" stroke-width="0.5"/>
<rect x="27" y="1414" width="49.5" height="36.5" fill="url(#bg)"/>
<ellipse cx="48" cy="1430" rx="13" ry="5" fill="#c4c4c4"/>
</g>
<g stroke="#111" stroke-width="1.6" fill="none">
<line x1="47" y1="1280.2" x2="47" y2="1300.5" marker-end="url(#ab)"/>
<line x1="47" y1="1387" x2="47" y2="1408" marker-end="url(#ab)"/>
<line x1="77" y1="1258.5" x2="101" y2="1258.5" marker-end="url(#ab)"/>
<line x1="77" y1="1429.6" x2="101" y2="1429.6" marker-end="url(#ab)"/>
<line x1="198" y1="1258.5" x2="220" y2="1258.5" marker-end="url(#ab)"/>
<line x1="198" y1="1429.6" x2="220" y2="1429.6" marker-end="url(#ab)"/>
<line x1="441" y1="1258.5" x2="472" y2="1258.5" marker-end="url(#ab)"/>
<line x1="441" y1="1429.6" x2="472" y2="1429.6" marker-end="url(#ab)"/>
<line x1="646" y1="1258.5" x2="668" y2="1258.5" marker-end="url(#ab)"/>
<line x1="646" y1="1429.6" x2="668" y2="1429.6" marker-end="url(#ab)"/>
<path d="M714,1258.5H727V1429.6H714"/>
<line x1="727" y1="1344.3" x2="746" y2="1344.3" marker-end="url(#ab)"/>
</g>
<rect x="102.6" y="1194.1" width="93.8" height="128.6" rx="8" fill="none" stroke="#111" stroke-width="0.7" stroke-dasharray="2.5,1.5"/>
<use xlink:href="#c3d" x="102.6" y="1194.1"/>
<text transform="translate(112.2,1258.1) rotate(-90)" font-size="10.5" text-anchor="middle">temporal</text>
<text class="b" x="149.5" y="1340.5" font-size="15.5" text-anchor="middle" textLength="44.5" lengthAdjust="spacingAndGlyphs">3DCNN</text>
<rect x="102.6" y="1365.5" width="93.8" height="128.5" rx="8" fill="none" stroke="#111" stroke-width="0.7" stroke-dasharray="2.5,1.5"/>
<use xlink:href="#c3d" x="102.6" y="1365.5"/>
<text transform="translate(112.2,1429.5) rotate(-90)" font-size="10.5" text-anchor="middle">temporal</text>
<text class="b" x="149.5" y="1511" font-size="15.5" text-anchor="middle" textLength="44.5" lengthAdjust="spacingAndGlyphs">3DCNN</text>

<rect x="222" y="1194.1" width="213.5" height="128.6" rx="8" fill="none" stroke="#111" stroke-width="0.7" stroke-dasharray="2.5,1.5"/>
<use xlink:href="#res" x="222" y="1194.1"/>
<text class="b" x="328" y="1340.5" font-size="15.5" text-anchor="middle" textLength="41.6" lengthAdjust="spacingAndGlyphs">ResNet</text>
<rect x="222" y="1365.5" width="213.5" height="128.5" rx="8" fill="none" stroke="#111" stroke-width="0.7" stroke-dasharray="2.5,1.5"/>
<use xlink:href="#res" x="222" y="1365.5"/>
<text class="b" x="328" y="1511" font-size="15.5" text-anchor="middle" textLength="41.6" lengthAdjust="spacingAndGlyphs">ResNet</text>

<use xlink:href="#bi" x="474" y="1202.8"/>
<text class="b" x="559" y="1332" font-size="15.5" text-anchor="middle" textLength="42" lengthAdjust="spacingAndGlyphs">BiGRU</text>
<use xlink:href="#bi" x="474" y="1373.9"/>
<text class="b" x="559" y="1503" font-size="15.5" text-anchor="middle" textLength="42" lengthAdjust="spacingAndGlyphs">BiGRU</text>

<use xlink:href="#fc" x="670" y="1215.7"/>
<text transform="translate(675.5,1258.5) rotate(90)" font-size="9" text-anchor="middle">FC</text>
<text x="706" y="1262.5" font-size="10" text-anchor="middle">Σ</text>
<use xlink:href="#fc" x="670" y="1386.8"/>
<text transform="translate(675.5,1429.6) rotate(90)" font-size="9" text-anchor="middle">FC</text>
<text x="706" y="1433.6" font-size="10" text-anchor="middle">Σ</text>

<text x="379.5" y="1545" font-size="19" text-anchor="middle">(<tspan class="b">e</tspan>)</text>
</svg>
</body></html>
